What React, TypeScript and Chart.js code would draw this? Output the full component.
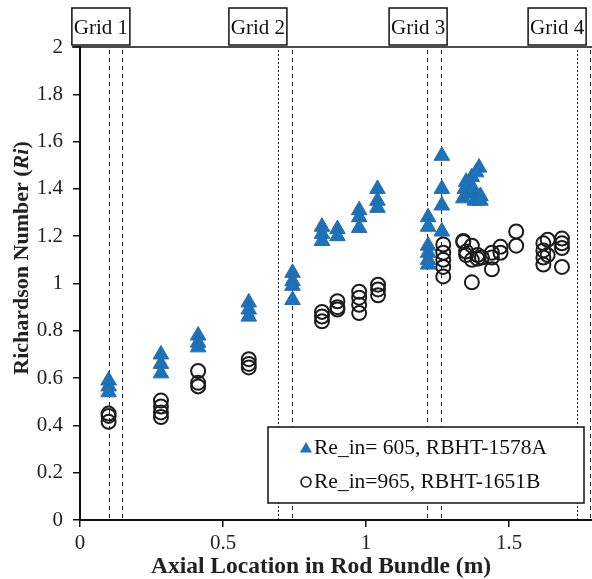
import React, { useEffect, useRef } from "react";
import { Chart, registerables } from "chart.js";
Chart.register(...registerables);

const SERIF = '"Liberation Serif", "Times New Roman", serif';

const xTicks = [0, 0.5, 1, 1.5];
const yTicks = [0, 0.2, 0.4, 0.6, 0.8, 1, 1.2, 1.4, 1.6, 1.8, 2];
const X_MIN = 0;
const X_MAX = 1.79;

const xTitle = "Axial Location in Rod Bundle (m)";
const triLabel = "Re_in= 605, RBHT-1578A";
const circLabel = "Re_in=965, RBHT-1651B";

const triX = [
  0.1, 0.1, 0.1,
  0.283, 0.283, 0.283,
  0.413, 0.413, 0.413,
  0.59, 0.59, 0.59,
  0.743, 0.743, 0.743, 0.743,
  0.846, 0.846, 0.846,
  0.9, 0.9,
  0.976, 0.976, 0.976,
  1.04, 1.04, 1.04,
  1.217, 1.217, 1.217, 1.217, 1.217, 1.217,
  1.265, 1.265, 1.265, 1.265,
  1.34, 1.345, 1.35, 1.36, 1.37, 1.375, 1.38, 1.395, 1.4, 1.4, 1.385,
];
const triY = [
  0.59, 0.565, 0.54,
  0.7, 0.66, 0.62,
  0.78, 0.75, 0.73,
  0.92, 0.89, 0.86,
  1.045, 1.01, 0.99, 0.93,
  1.24, 1.21, 1.18,
  1.23, 1.2,
  1.31, 1.28, 1.235,
  1.4, 1.35, 1.32,
  1.28, 1.24, 1.16, 1.13, 1.1, 1.08,
  1.54, 1.4, 1.33, 1.22,
  1.36, 1.4, 1.43, 1.38, 1.45, 1.4, 1.35, 1.49, 1.37, 1.35, 1.47,
];

const circX = [
  0.1, 0.1, 0.1,
  0.283, 0.283, 0.283, 0.283,
  0.413, 0.413, 0.413,
  0.59, 0.59, 0.59,
  0.846, 0.846, 0.846,
  0.9, 0.9, 0.9,
  0.976, 0.976, 0.976, 0.976,
  1.042, 1.042, 1.042,
  1.27, 1.27, 1.27, 1.27, 1.27,
  1.34, 1.34,
  1.35, 1.35,
  1.37, 1.37, 1.37,
  1.39, 1.39,
  1.405,
  1.44, 1.44, 1.44,
  1.47, 1.47,
  1.525, 1.525,
  1.62, 1.62, 1.62, 1.62,
  1.635, 1.635,
  1.685, 1.685, 1.685, 1.685,
];
const circY = [
  0.45, 0.44, 0.415,
  0.505, 0.48, 0.455, 0.435,
  0.63, 0.58, 0.565,
  0.68, 0.66, 0.645,
  0.88, 0.86, 0.84,
  0.925, 0.9, 0.89,
  0.965, 0.94, 0.91, 0.875,
  0.995, 0.975, 0.95,
  1.165, 1.13, 1.1, 1.07, 1.03,
  1.18, 1.175,
  1.135, 1.12,
  1.005, 1.1, 1.16,
  1.12, 1.105,
  1.11,
  1.13, 1.11, 1.06,
  1.155, 1.13,
  1.22, 1.16,
  1.17, 1.14, 1.11, 1.08,
  1.185, 1.12,
  1.19, 1.17, 1.15, 1.07,
];

const gridNames = ["Grid 1", "Grid 2", "Grid 3", "Grid 4"];
const gridLabelX = [0.073, 0.622, 1.182, 1.668];
const gridLineLeft = [0.101, 0.692, 1.213, 1.738];
const gridLineRight = [0.147, 0.741, 1.262, 1.783];

const BLUE = "#1a73bd";
const DARK = "#1c1c1c";

function drawTriangle(ctx: CanvasRenderingContext2D, x: number, y: number, r: number) {
  ctx.beginPath();
  ctx.moveTo(x, y - r);
  ctx.lineTo(x + r * 0.866, y + r * 0.5);
  ctx.lineTo(x - r * 0.866, y + r * 0.5);
  ctx.closePath();
  ctx.fillStyle = BLUE;
  ctx.fill();
}

const overlayPlugin = {
  id: "overlay",
  beforeDatasetsDraw(chart: any) {
    const { ctx, chartArea, scales } = chart;
    const x = scales.x;
    ctx.save();
    ctx.strokeStyle = "#222";
    ctx.lineWidth = 1;
    const drawV = (v: number, dash: number[]) => {
      const px = Math.round(x.getPixelForValue(v)) + 0.5;
      ctx.setLineDash(dash);
      ctx.beginPath();
      ctx.moveTo(px, chartArea.top + 3);
      ctx.lineTo(px, chartArea.bottom);
      ctx.stroke();
    };
    gridLineLeft.forEach((v, i) => drawV(v, i === 1 || i === 3 ? [2, 2] : [4, 4]));
    gridLineRight.forEach((v) => drawV(v, [4, 4]));
    ctx.restore();
  },
  afterDraw(chart: any) {
    const { ctx, chartArea, scales } = chart;
    const x = scales.x;
    ctx.save();
    // top line
    ctx.strokeStyle = "#111";
    ctx.lineWidth = 1.5;
    ctx.setLineDash([]);
    ctx.beginPath();
    ctx.moveTo(72, chartArea.top);
    ctx.lineTo(chart.width, chartArea.top);
    ctx.stroke();

    // grid labels
    ctx.font = `21px ${SERIF}`;
    ctx.textAlign = "center";
    ctx.textBaseline = "middle";
    gridNames.forEach((name, i) => {
      const cx = x.getPixelForValue(gridLabelX[i]);
      const w = 58;
      ctx.fillStyle = "#fff";
      ctx.fillRect(cx - w / 2, 8, w, 37);
      ctx.strokeRect(cx - w / 2, 8, w, 37);
      ctx.fillStyle = "#111";
      ctx.fillText(name, cx, 28);
    });

    // legend
    const lx = 268, ly = 427, lw = 316, lh = 76;
    ctx.fillStyle = "#fff";
    ctx.fillRect(lx, ly, lw, lh);
    ctx.strokeStyle = "#111";
    ctx.lineWidth = 1.5;
    ctx.strokeRect(lx, ly, lw, lh);
    drawTriangle(ctx, 306, 449, 7);
    ctx.beginPath();
    ctx.arc(306, 482, 5, 0, Math.PI * 2);
    ctx.strokeStyle = DARK;
    ctx.lineWidth = 1.6;
    ctx.stroke();
    ctx.fillStyle = "#111";
    ctx.textAlign = "left";
    ctx.textBaseline = "middle";
    ctx.font = `21.5px ${SERIF}`;
    ctx.fillText(triLabel, 314, 448);
    ctx.fillText(circLabel, 314, 482);

    // x title
    ctx.font = `bold 23.5px ${SERIF}`;
    ctx.textAlign = "center";
    ctx.fillStyle = "#222";
    ctx.fillText(xTitle, 321, 567);

    // y title
    ctx.translate(22, 258);
    ctx.rotate(-Math.PI / 2);
    const parts: [string, string][] = [
      ["Richardson Number (", `bold 22px ${SERIF}`],
      ["Ri", `italic bold 22px ${SERIF}`],
      [")", `bold 22px ${SERIF}`],
    ];
    let total = 0;
    parts.forEach(([t, f]) => { ctx.font = f; total += ctx.measureText(t).width; });
    let cur = -total / 2;
    ctx.textAlign = "left";
    ctx.textBaseline = "middle";
    parts.forEach(([t, f]) => {
      ctx.font = f;
      ctx.fillText(t, cur, 0);
      cur += ctx.measureText(t).width;
    });
    ctx.restore();
  },
};

const fmt = (v: any) => String(Math.round(Number(v) * 10) / 10);

export default function App() {
  const ref = useRef<HTMLCanvasElement>(null);
  useEffect(() => {
    document.body.style.margin = "0";
    const chart = new Chart(ref.current!, {
      type: "scatter",
      data: {
        datasets: [
          {
            label: circLabel,
            data: circX.map((v, i) => ({ x: v, y: circY[i] })),
            pointStyle: "circle",
            pointRadius: 7,
            borderWidth: 2,
            borderColor: DARK,
            backgroundColor: "rgba(0,0,0,0)",
          },
          {
            label: triLabel,
            data: triX.map((v, i) => ({ x: v, y: triY[i] })),
            pointStyle: "triangle",
            pointRadius: 9,
            borderWidth: 1,
            borderColor: "#2a69a5",
            backgroundColor: BLUE,
          },
        ],
      },
      options: {
        animation: false,
        responsive: false,
        layout: { autoPadding: false, padding: { top: 47, left: 0, right: 0, bottom: 0 } },
        plugins: { legend: { display: false }, tooltip: { enabled: false } },
        scales: {
          x: {
            type: "linear",
            bounds: "data",
            min: X_MIN,
            max: X_MAX,
            afterBuildTicks: (s: any) => {
              s.ticks = xTicks.map((v) => ({ value: v }));
              s.min = X_MIN;
              s.max = X_MAX;
            },
            afterFit: (s: any) => { s.height = 59; s.paddingRight = 0; },
            grid: { display: true, drawOnChartArea: false, drawTicks: true, tickLength: 7, color: "#111", lineWidth: 1.5 },
            border: { display: true, color: "#111", width: 2 },
            ticks: { font: { family: SERIF, size: 21 }, color: "#222", padding: 4, maxRotation: 0, autoSkip: false, callback: fmt },
          },
          y: {
            type: "linear",
            min: 0,
            max: 2,
            afterBuildTicks: (s: any) => { s.ticks = yTicks.map((v) => ({ value: v })); },
            afterFit: (s: any) => { s.width = 80; },
            grid: { display: true, drawOnChartArea: false, drawTicks: true, tickLength: 7, color: "#111", lineWidth: 1.5 },
            border: { display: true, color: "#111", width: 2 },
            ticks: { font: { family: SERIF, size: 21 }, color: "#222", padding: 10, callback: fmt },
          },
        },
      },
      plugins: [overlayPlugin],
    });
    return () => chart.destroy();
  }, []);
  return (
    <div style={{ width: 592, height: 579 }}>
      <canvas ref={ref} width={592} height={579} style={{ display: "block" }} />
    </div>
  );
}
